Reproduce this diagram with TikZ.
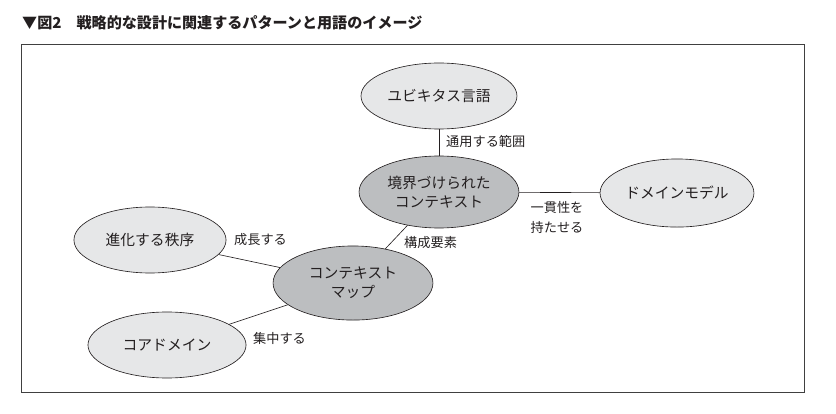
\documentclass[tikz,border=0pt]{standalone}
\usepackage{fontspec}
\setmainfont{Noto Sans CJK JP}
\usetikzlibrary{shapes.geometric}
\definecolor{palegray}{HTML}{E6E7E8}
\definecolor{midgray}{HTML}{BCBEC0}
\definecolor{inkgray}{HTML}{231F20}
\tikzset{
  term/.style={ellipse,draw=inkgray,line width=0.6pt,fill=palegray,inner sep=0pt,
    align=center,text=inkgray,font=\fontsize{14}{18}\selectfont},
  core/.style={term,fill=midgray},
  rel/.style={text=inkgray,font=\fontsize{12.5}{19}\selectfont,inner sep=0pt,align=center},
  link/.style={draw=inkgray,line width=0.6pt}
}
\begin{document}
\begin{tikzpicture}
  \useasboundingbox (0,0) rectangle (27.867,13.767);
  \node[anchor=west,inner sep=0pt,font=\fontsize{14.3}{17}\selectfont\bfseries,text=inkgray]
      (title) at (0.733,13.0) {▼図2\quad 戦略的な設計に関連するパターンと用語のイメージ};
  \draw[black!75,line width=0.8pt] (0.7,0.7) rectangle (26.8,12.3);

  % terms
  \node[term,minimum width=5.2cm,minimum height=2.2cm] (ubi) at (14.633,10.567) {ユビキタス言語};
  \node[core,minimum width=5.33cm,minimum height=2.4cm] (bc) at (14.633,7.367) {境界づけられた\\コンテキスト};
  \node[term,minimum width=5.13cm,minimum height=2.27cm] (dm) at (22.567,7.333) {ドメインモデル};
  \node[term,minimum width=5.07cm,minimum height=2.2cm] (evo) at (5.0,5.767) {進化する秩序};
  \node[core,minimum width=5.33cm,minimum height=2.47cm] (cmap) at (11.767,4.333) {コンテキスト\\マップ};
  \node[term,minimum width=5.27cm,minimum height=2.2cm] (cd) at (5.567,2.267) {コアドメイン};

  % relations
  \draw[link] (ubi) -- (bc);
  \draw[link] (bc) -- (dm);
  \draw[link] (bc) -- (cmap);
  \draw[link] (evo) -- (cmap);
  \draw[link] (cd) -- (cmap);

  \node[rel,anchor=west] (scope) at (14.867,9.067) {通用する範囲};
  \node[rel] (consist) at (18.567,6.533) {一貫性を\\持たせる};
  \node[rel,anchor=west] (part) at (13.467,5.667) {構成要素};
  \node[rel,anchor=west] (grow) at (7.8,5.767) {成長する};
  \node[rel,anchor=west] (focus) at (8.433,2.5) {集中する};
\end{tikzpicture}
\end{document}
